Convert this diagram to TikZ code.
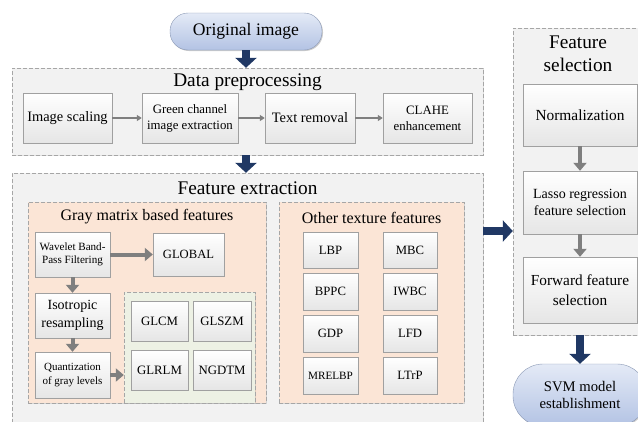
\documentclass[tikz,border=0pt]{standalone}
\usepackage{fontspec}
\setmainfont{Liberation Serif}
\usetikzlibrary{arrows.meta,shadows,positioning}
\definecolor{navy}{HTML}{203864}
\definecolor{groupgray}{HTML}{F2F2F2}
\definecolor{dashgray}{HTML}{A6A6A6}
\definecolor{peach}{HTML}{FBE5D6}
\definecolor{palegreen}{HTML}{EDF1E4}
\definecolor{boxline}{HTML}{A0A0A0}
\definecolor{arrowgray}{HTML}{7F7F7F}
\definecolor{pilltop}{HTML}{E4EAF6}
\definecolor{pillbottom}{HTML}{B3C3E4}
\definecolor{pillline}{HTML}{8A98B4}
\newcommand{\fsz}[2]{\fontsize{#1}{#2}\selectfont}
\tikzset{
    group-box/.style = {draw=dashgray, dash pattern=on 4pt off 2pt, fill=groupgray, rectangle, inner sep=0pt,
        drop shadow={shadow xshift=1pt, shadow yshift=-1pt, fill=black, opacity=0.12}},
    sub-box/.style = {group-box, fill=peach},
    green-box/.style = {group-box, fill=palegreen},
    group-title/.style = {font=\fsz{19.3}{23}, align=center, inner sep=0pt},
    sub-title/.style = {font=\fsz{16}{19}, inner sep=0pt},
    step-box/.style = {draw=boxline, top color=white, bottom color=black!10, rectangle, inner sep=1pt, align=center,
        drop shadow={shadow xshift=1pt, shadow yshift=-1pt, fill=black, opacity=0.2}},
    pill-box/.style = {draw=pillline, top color=pilltop, bottom color=pillbottom, rounded corners=18pt, align=center,
        drop shadow={shadow xshift=1pt, shadow yshift=-1pt, fill=black, opacity=0.2}},
    dark-arrow/.style = {navy, line width=8pt, -{Triangle[length=10pt, width=21pt]}},
    thin-arrow/.style = {arrowgray, line width=1.5pt, -{Triangle[length=5pt, width=6pt]}},
    thick-arrow/.style = {arrowgray, line width=4pt, -{Triangle[length=8pt, width=13pt]}},
}

\begin{document}
\begin{tikzpicture}[x=1pt, y=-1pt]
\useasboundingbox (0,0) rectangle (638,421);
\clip (0,0) rectangle (638,421);

% group boxes
\node[group-box, minimum width=471pt, minimum height=87pt] (prep) at (247.5,111.5) {};
\node[group-box, minimum width=471pt, minimum height=258pt] (fe) at (247.5,302) {};
\node[group-box, minimum width=130pt, minimum height=307pt] (fs) at (578,181.5) {};
\node[sub-box, minimum width=238pt, minimum height=201pt] (gm) at (147,302.5) {};
\node[sub-box, minimum width=185pt, minimum height=201pt] (other) at (371.5,302.5) {};
\node[green-box, minimum width=131pt, minimum height=111pt] (glgroup) at (189.5,347.5) {};

\node[group-title] at ([yshift=-14pt]prep.north) {Data preprocessing};
\node[group-title] at ([yshift=-15pt]fe.north) {Feature extraction};
\node[group-title] at ([yshift=-26pt]fs.north) {Feature\\selection};
\node[sub-title] at ([yshift=-15pt]gm.north) {Gray matrix based features};
\node[sub-title] at ([yshift=-16pt]other.north) {Other texture features};

% start and end
\node[pill-box, font=\fsz{17.6}{20}, minimum width=152pt, minimum height=37pt] (orig) at (246,31.5) {Original image};
\node[pill-box, font=\fsz{14.7}{17}, rounded corners=30pt, minimum width=134pt, minimum height=62pt] (svm) at (580,395) {SVM model\\establishment};

% preprocessing steps
\node[step-box, font=\fsz{14.4}{17}, minimum width=89pt, minimum height=50pt] (scaling) at (67.5,118) {Image scaling};
\node[step-box, font=\fsz{12.8}{16}, minimum width=96pt, minimum height=50pt] (green) at (190,118) {Green channel\\image extraction};
\node[step-box, font=\fsz{14.4}{17}, minimum width=90pt, minimum height=50pt] (textrm) at (310,118) {Text removal};
\node[step-box, font=\fsz{12.8}{16}, minimum width=89pt, minimum height=50pt] (clahe) at (427.5,118) {CLAHE\\enhancement};

% gray matrix features
\node[step-box, font=\fsz{11.1}{13}, minimum width=75pt, minimum height=45pt] (wavelet) at (72.5,254.5) {Wavelet Band-\\Pass Filtering};
\node[step-box, font=\fsz{12.6}{15}, minimum width=71pt, minimum height=43pt] (global) at (188.5,254.5) {GLOBAL};
\node[step-box, font=\fsz{14}{18}, minimum width=75pt, minimum height=45pt] (iso) at (72.5,315.5) {Isotropic\\resampling};
\node[step-box, font=\fsz{11}{13.5}, minimum width=75pt, minimum height=46pt] (quant) at (72.5,375) {Quantization\\of gray levels};
\node[step-box, font=\fsz{12.8}{15}, minimum width=57pt, minimum height=40pt] (glcm) at (159.5,321) {GLCM};
\node[step-box, font=\fsz{12.8}{15}, minimum width=58pt, minimum height=40pt] (glszm) at (222,321) {GLSZM};
\node[step-box, font=\fsz{12.8}{15}, minimum width=57pt, minimum height=40pt] (glrlm) at (159.5,370) {GLRLM};
\node[step-box, font=\fsz{12.8}{15}, minimum width=58pt, minimum height=40pt] (ngdtm) at (222,370) {NGDTM};

% other texture features
\node[step-box, font=\fsz{12.7}{15}, minimum width=55pt, minimum height=36pt] (lbp) at (330.5,250) {LBP};
\node[step-box, font=\fsz{12.7}{15}, minimum width=54pt, minimum height=36pt] (mbc) at (410,250) {MBC};
\node[step-box, font=\fsz{12.7}{15}, minimum width=55pt, minimum height=37pt] (bppc) at (330.5,291.5) {BPPC};
\node[step-box, font=\fsz{12.7}{15}, minimum width=54pt, minimum height=37pt] (iwbc) at (410,291.5) {IWBC};
\node[step-box, font=\fsz{12.7}{15}, minimum width=55pt, minimum height=37pt] (gdp) at (330.5,333.5) {GDP};
\node[step-box, font=\fsz{12.7}{15}, minimum width=54pt, minimum height=37pt] (lfd) at (410,333.5) {LFD};
\node[step-box, font=\fsz{11.2}{13}, minimum width=55pt, minimum height=37pt] (mrelbp) at (330.5,375.5) {MRELBP};
\node[step-box, font=\fsz{12.7}{15}, minimum width=54pt, minimum height=37pt] (ltrp) at (410,375.5) {LTrP};

% feature selection
\node[step-box, font=\fsz{15.4}{18}, minimum width=114pt, minimum height=62pt] (norm) at (580,115) {Normalization};
\node[step-box, font=\fsz{14}{17}, minimum width=114pt, minimum height=63pt] (lasso) at (580,202.5) {Lasso regression\\feature selection};
\node[step-box, font=\fsz{15.3}{19.5}, minimum width=114pt, minimum height=66pt] (forward) at (580,290) {Forward feature\\selection};

% connectors
\coordinate (fe-out) at (483,231);
\draw[dark-arrow] (orig.south) -- (prep.north -| orig.south);
\draw[dark-arrow] (prep.south -| orig.south) -- (fe.north -| orig.south);
\draw[dark-arrow] (fe-out) -- (fe-out -| fs.west);
\draw[dark-arrow] (fs.south -| svm.north) -- (svm.north);

\draw[thin-arrow] (scaling) -- (green);
\draw[thin-arrow] (green) -- (textrm);
\draw[thin-arrow] (textrm) -- (clahe);

\draw[thick-arrow] (wavelet) -- (global);
\draw[thick-arrow] (wavelet) -- (iso);
\draw[thick-arrow] (iso) -- (quant);
\draw[thick-arrow] (quant) -- (quant -| glgroup.west);
\draw[thick-arrow] (norm) -- (lasso);
\draw[thick-arrow] (lasso) -- (forward);
\end{tikzpicture}
\end{document}
